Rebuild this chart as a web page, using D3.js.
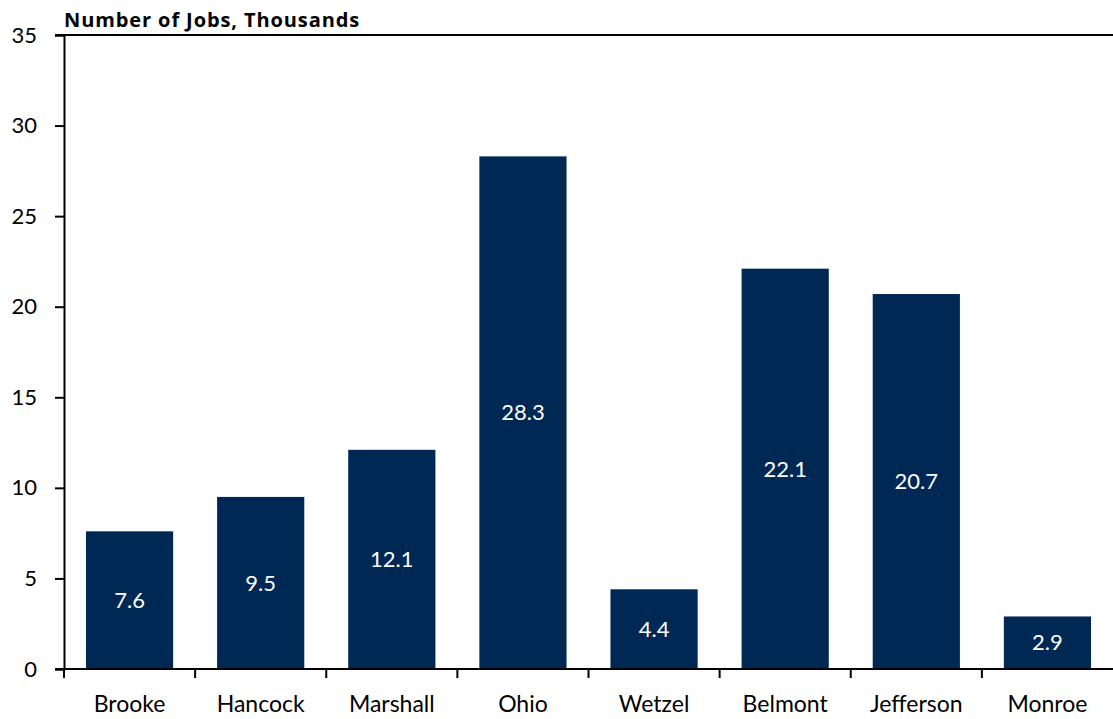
<!DOCTYPE html>
<html lang="en">
<head>
    <meta charset="UTF-8">
    <title>Number of Jobs</title>
    <script src="https://cdn.jsdelivr.net/npm/d3@7"></script>
    <style>
        body { margin: 0; background: #fff; }
        svg text { font-family: Lato, "Open Sans", sans-serif; }
        svg text.title { font-family: "Open Sans", Lato, sans-serif; }
    </style>
</head>
<body>
    <div id="chart"></div>
    <script>
        // chart data
        var counties = ['Brooke', 'Hancock', 'Marshall', 'Ohio', 'Wetzel', 'Belmont', 'Jefferson', 'Monroe'];
        var jobs = [7.6, 9.5, 12.1, 28.3, 4.4, 22.1, 20.7, 2.9];
        var yTicks = [0, 5, 10, 15, 20, 25, 30, 35];
        var title = 'Number of Jobs, Thousands';

        var width = 1113, height = 719;
        var margin = { top: 35, right: 0, bottom: 50, left: 64 };

        var svg = d3.select('#chart').append('svg')
            .attr('width', width)
            .attr('height', height);

        var x = d3.scaleBand()
            .domain(counties)
            .range([margin.left, width - margin.right])
            .paddingInner(0.335)
            .paddingOuter(0.1675);

        var y = d3.scaleLinear()
            .domain([0, 35])
            .range([height - margin.bottom, margin.top]);

        // bars
        svg.append('g')
            .selectAll('rect')
            .data(jobs)
            .join('rect')
            .attr('x', (d, i) => x(counties[i]))
            .attr('y', d => y(d))
            .attr('width', x.bandwidth())
            .attr('height', d => y(0) - y(d))
            .attr('fill', '#002855');

        // value labels in the middle of each bar
        svg.append('g')
            .selectAll('text')
            .data(jobs)
            .join('text')
            .attr('x', (d, i) => x(counties[i]) + x.bandwidth() / 2)
            .attr('y', d => (y(0) + y(d)) / 2)
            .attr('dy', '0.35em')
            .attr('text-anchor', 'middle')
            .attr('fill', '#fff')
            .style('font-size', '22px')
            .text(d => d.toFixed(1));

        // y axis
        var yAxis = svg.append('g')
            .attr('transform', 'translate(' + margin.left + ',0)')
            .call(d3.axisLeft(y).tickValues(yTicks).tickSize(9).tickPadding(18));
        yAxis.select('.domain').attr('stroke-width', 2);
        yAxis.selectAll('.tick line').attr('stroke-width', 2);
        yAxis.selectAll('.tick text').style('font-size', '22px').attr('fill', '#000');

        // top border line
        svg.append('line')
            .attr('x1', margin.left - 9)
            .attr('x2', width)
            .attr('y1', y(35))
            .attr('y2', y(35))
            .attr('stroke', '#000')
            .attr('stroke-width', 2);

        // x axis with ticks at band boundaries
        var xAxis = svg.append('g')
            .attr('transform', 'translate(0,' + y(0) + ')');
        xAxis.append('line')
            .attr('x1', margin.left - 9)
            .attr('x2', width)
            .attr('stroke', '#000')
            .attr('stroke-width', 2);
        var step = x.step();
        var bounds = counties.map((c, i) => margin.left + i * step);
        xAxis.selectAll('line.tick')
            .data(bounds)
            .join('line')
            .attr('class', 'tick')
            .attr('x1', d => d)
            .attr('x2', d => d)
            .attr('y1', 0)
            .attr('y2', 9)
            .attr('stroke', '#000')
            .attr('stroke-width', 2);
        xAxis.selectAll('text')
            .data(counties)
            .join('text')
            .attr('x', d => x(d) + x.bandwidth() / 2)
            .attr('y', 43)
            .attr('text-anchor', 'middle')
            .attr('fill', '#000')
            .style('font-size', '23px')
            .text(d => d);

        // title
        svg.append('text')
            .attr('class', 'title')
            .attr('x', margin.left)
            .attr('y', 27)
            .style('font-size', '20px')
            .style('font-weight', 'bold')
            .style('letter-spacing', '0.9px')
            .text(title);
    </script>
</body>
</html>
